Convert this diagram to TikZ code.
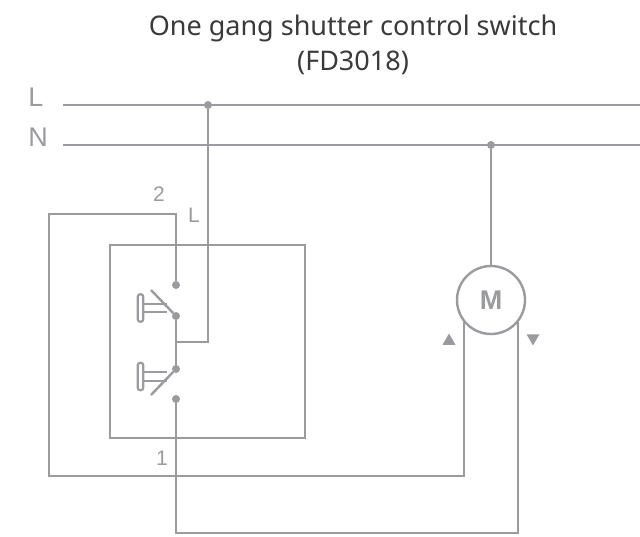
\documentclass[tikz,border=0pt]{standalone}
\usepackage{fontspec}
\setmainfont{Noto Sans}
\newfontfamily\labelfont{Liberation Sans}
\usetikzlibrary{shapes.geometric}
\definecolor{wiregray}{HTML}{9A9B9E}
\definecolor{titlegray}{HTML}{3A3A3C}
\tikzset{
	wire/.style = {draw=wiregray, line width=2.4pt},
	terminal/.style = {shape=circle, fill=wiregray, inner sep=0pt, minimum size=8pt},
	handle/.style = {shape=rectangle, draw=wiregray, line width=2.2pt, rounded corners=2.5pt, inner sep=0pt, minimum width=5.5pt, minimum height=27.5pt},
	wirelabel/.style = {text=wiregray, font=\labelfont\fontsize{21}{21}\selectfont, inner sep=0pt},
	mark up/.style = {shape=regular polygon, regular polygon sides=3, fill=wiregray, inner sep=0pt, minimum size=15pt},
}
\begin{document}
\begin{tikzpicture}[x=1pt, y=-1pt]
\useasboundingbox (0,0) rectangle (640,536);
\node[align=center, text=titlegray, font=\fontsize{27}{35}\selectfont, inner sep=0pt] (title) at (353,45) {One gang shutter control switch\\(FD3018)};
\node[wirelabel, font=\labelfont\fontsize{27}{27}\selectfont] (labelL) at (36,97) {L};
\node[wirelabel, font=\labelfont\fontsize{27}{27}\selectfont] (labelN) at (38,137) {N};
\node[wirelabel] (label2) at (159,194) {2};
\node[wirelabel] (labelLin) at (194,215) {L};
\node[wirelabel] (label1) at (162,458) {1};
\coordinate (Lstart) at (63,105);
\coordinate (Lend) at (640,105);
\coordinate (Nstart) at (63,145);
\coordinate (Nend) at (640,145);
\node[terminal] (Ltap) at (208,105) {};
\node[terminal] (Ntap) at (491,145) {};
\node[terminal] (contactA) at (176,285) {};
\node[terminal] (commonA) at (176,316) {};
\node[terminal] (commonB) at (176,369) {};
\node[terminal] (contactB) at (176,399) {};
\coordinate (feed) at (176,342);
\coordinate (bladeA) at (151,290);
\coordinate (bladeB) at (151,395);
\node[shape=rectangle, draw=wiregray, line width=2.4pt, inner sep=0pt, minimum width=195pt, minimum height=193pt] (switchbox) at (207.5,341.5) {};
\node[shape=circle, draw=wiregray, line width=2.4pt, fill=white, inner sep=0pt, minimum size=68pt, text=wiregray, font=\labelfont\fontsize{27}{27}\selectfont\bfseries] (motor) at (491,300) {M};
\node[handle] (handleA) at (140.5,308) {};
\node[handle] (handleB) at (140.5,376.5) {};
\node[mark up] (markup) at (449,341) {};
\node[mark up, rotate=180] (markdown) at (533,338) {};
\coordinate (upA) at (167,304);
\coordinate (loA) at (167,312);
\coordinate (upB) at (167,372);
\coordinate (loB) at (167,381);
\coordinate (cornerTL) at (49,214);
\coordinate (cornerBL) at (49,476);
\coordinate (cornerBM) at (176,533);
\coordinate (motorleft) at (464,322);
\coordinate (motorright) at (518,322);
\draw[wire] (Lstart) -- (Lend);
\draw[wire] (Nstart) -- (Nend);
\draw[wire] (Ltap) |- (feed);
\draw[wire] (commonA) -- (commonB);
\draw[wire] (Ntap) -- (motor);
\draw[wire] (contactA) |- (cornerTL) -- (cornerBL) -| (motorleft);
\draw[wire] (contactB) -- (cornerBM) -| (motorright);
\draw[wire] (commonA) -- (bladeA);
\draw[wire] (commonB) -- (bladeB);
\draw[wire] (handleA.east |- upA) -- (upA);
\draw[wire] (handleA.east |- loA) -- (loA);
\draw[wire] (handleB.east |- upB) -- (upB);
\draw[wire] (handleB.east |- loB) -- (loB);
\end{tikzpicture}
\end{document}
